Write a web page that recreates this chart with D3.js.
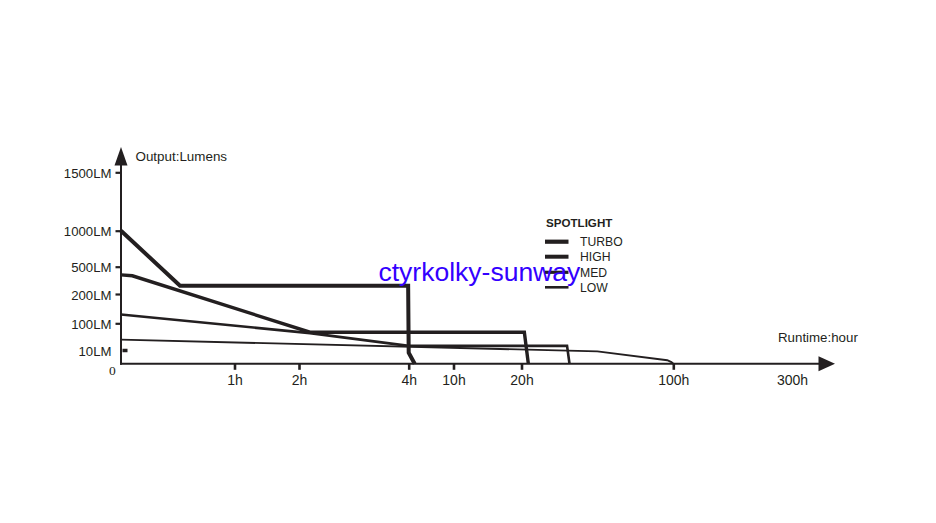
<!DOCTYPE html>
<html>
<head>
<meta charset="utf-8">
<script src="https://cdn.jsdelivr.net/npm/d3@7/dist/d3.min.js"></script>
<style>
  html, body { margin: 0; padding: 0; background: #ffffff; }
  svg { display: block; }
  text { font-family: "Liberation Sans", Arial, sans-serif; fill: #231f20; }
</style>
</head>
<body>
<svg id="chart" width="936" height="523"></svg>
<script>
// ---- data (hours, lumens) ----
const seriesNames = ["TURBO", "HIGH", "MED", "LOW"];
const turbo = [[0, 1000], [0.52, 290], [3.99, 290], [4.0, 8], [4.8, 0]];
const high  = [[0, 410], [0.1, 400], [2.2, 70], [21.5, 70], [23.6, 0]];
const med   = [[0, 130], [2.2, 67], [4.0, 24], [44, 24], [45.3, 0]];
const low   = [[0, 45], [60, 9], [96.8, 2.6], [99, 1.2], [100, 0]];
const xTickValues = [1, 2, 4, 10, 20, 100, 300];
const xTickLabels = ["1h", "2h", "4h", "10h", "20h", "100h", "300h"];
const yTickValues = [10, 100, 200, 500, 1000, 1500];
const yTickLabels = ["10LM", "100LM", "200LM", "500LM", "1000LM", "1500LM"];
const legendTitle = "SPOTLIGHT";
const yTitle = "Output:Lumens";
const xTitle = "Runtime:hour";
const watermark = "ctyrkolky-sunway";

// ---- layout ----
const ink = "#231f20";
const svg = d3.select("#chart");

// piecewise (non-uniform) scales as printed on the chart
const x = d3.scaleLinear()
  .domain([0, 1, 2, 4, 10, 20, 100, 300])
  .range([121, 234.5, 299, 408.7, 453.5, 521.5, 673.3, 792]);
const y = d3.scaleLinear()
  .domain([0, 10, 100, 200, 500, 1000, 1500])
  .range([363.8, 350, 323.3, 294, 266.7, 230.7, 172.3]);

const x0 = x(0), y0 = y(0);

// ---- x axis ----
const xAxis = d3.axisBottom(x)
  .tickValues(xTickValues)
  .tickSize(6)
  .tickPadding(5)
  .tickFormat((d, i) => xTickLabels[i]);
const gx = svg.append("g").attr("transform", `translate(0,${y0})`).call(xAxis);
gx.select(".domain").remove();
gx.selectAll(".tick line").attr("stroke", ink).attr("stroke-width", 2.6)
  .attr("opacity", d => d === 300 ? 0 : 1);
gx.selectAll(".tick text").style("font-size", "14px").style("fill", ink).attr("dy", "0.71em");

// ---- y axis ----
const yAxis = d3.axisLeft(y)
  .tickValues(yTickValues)
  .tickSize(5)
  .tickPadding(4)
  .tickFormat((d, i) => yTickLabels[i]);
const gy = svg.append("g").attr("transform", `translate(${x0 - 0.5},0)`).call(yAxis);
gy.select(".domain").remove();
gy.selectAll(".tick line").attr("stroke", ink).attr("stroke-width", 2.2);
gy.selectAll(".tick").filter(d => d === 10).select("line")
  .attr("x1", 2).attr("x2", 7).attr("stroke-width", 3.5);
gy.selectAll(".tick text").style("font-size", "13.2px").style("fill", ink).attr("dy", "0.38em");

// axis lines + arrows
svg.append("line").attr("x1", x0).attr("x2", x0).attr("y1", 164).attr("y2", y0 + 1)
  .attr("stroke", ink).attr("stroke-width", 2);
svg.append("line").attr("x1", x0 - 1).attr("x2", 822).attr("y1", y0).attr("y2", y0)
  .attr("stroke", ink).attr("stroke-width", 2);
svg.append("path").attr("d", `M${x0},147 L${x0 - 6.5},165.5 L${x0 + 6.5},165.5 Z`).attr("fill", ink);
svg.append("path").attr("d", `M835,${y0} L818.5,${y0 - 7.5} L818.5,${y0 + 7.5} Z`).attr("fill", ink);

// origin label (serif in the original)
svg.append("text").attr("x", 112.3).attr("y", 375).attr("text-anchor", "middle")
  .style("font-family", "'Liberation Serif', 'Times New Roman', serif").style("font-size", "13.5px")
  .text("0");

// axis titles
svg.append("text").attr("x", 135.5).attr("y", 160.7).style("font-size", "13.4px").text(yTitle);
svg.append("text").attr("x", 778).attr("y", 341.7).style("font-size", "13.3px").text(xTitle);

// ---- series ----
const line = d3.line().x(d => x(d[0])).y(d => y(d[1]));
const seriesData = [turbo, high, med, low];
const widths = [4, 3.4, 2.6, 1.9];
svg.append("g").selectAll("path")
  .data(seriesData)
  .join("path")
  .attr("d", line)
  .attr("fill", "none")
  .attr("stroke", ink)
  .attr("stroke-width", (d, i) => widths[i])
  .attr("stroke-linejoin", "miter");

// ---- legend ----
const lg = svg.append("g");
lg.append("text").attr("x", 546).attr("y", 226.7).style("font-size", "11.6px")
  .style("font-weight", "bold").text(legendTitle);
const legY = [241.7, 256.7, 272.3, 287.3];
const legW = [4.2, 4, 3.2, 2.6];
seriesNames.forEach((n, i) => {
  lg.append("line").attr("x1", 545).attr("x2", 568.5).attr("y1", legY[i]).attr("y2", legY[i])
    .attr("stroke", ink).attr("stroke-width", legW[i]);
  lg.append("text").attr("x", 580).attr("y", legY[i] + 4.2).style("font-size", "12.2px").text(n);
});

// ---- watermark ----
svg.append("text").attr("x", 378.5).attr("y", 280.5).style("font-size", "26.5px")
  .style("fill", "#3300ff").text(watermark);
</script>
</body>
</html>
